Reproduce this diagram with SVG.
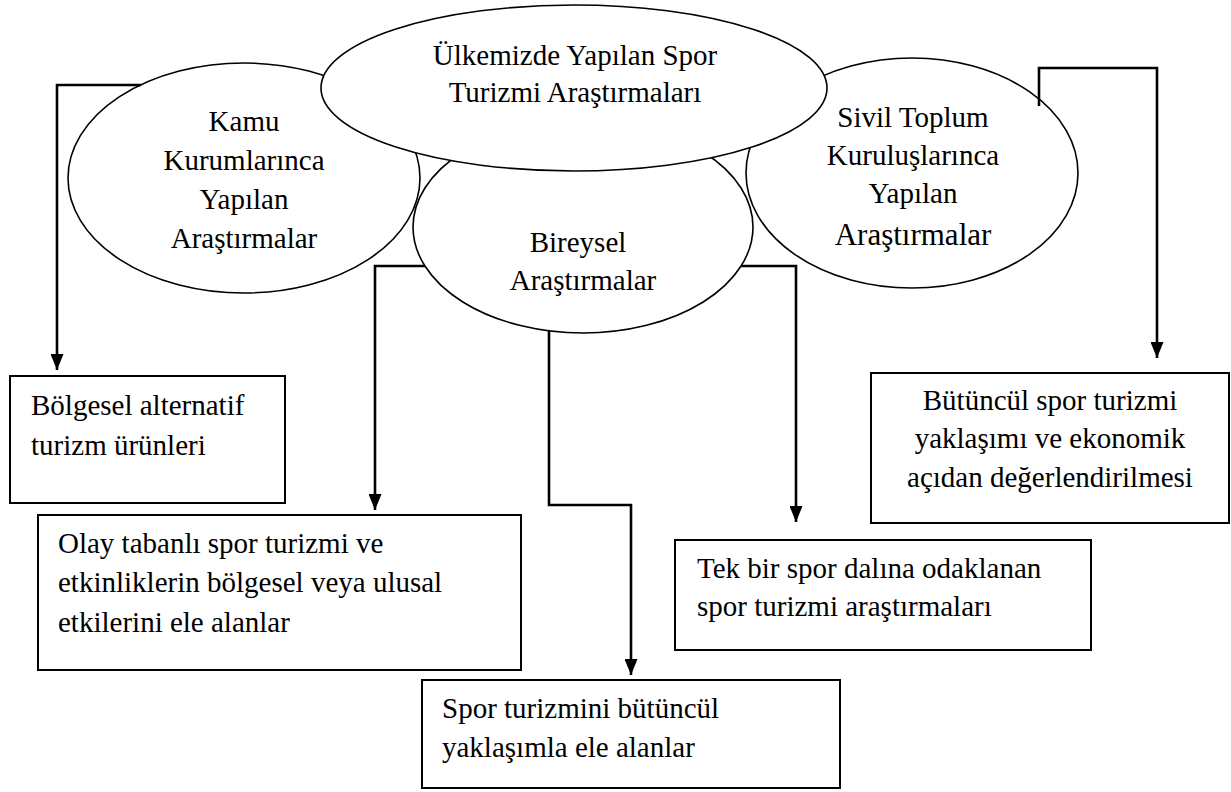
<svg xmlns="http://www.w3.org/2000/svg" width="1231" height="792" viewBox="0 0 1231 792">
  <defs>
    <!-- solid triangular arrowhead, drawn along +x so orient="auto" turns it with the line -->
    <marker id="arrow" markerWidth="16" markerHeight="13" refX="16" refY="6.5" orient="auto" markerUnits="userSpaceOnUse" viewBox="0 0 16 13">
      <path d="M0,0 L16,6.5 L0,13 Z" fill="#000"/>
    </marker>
    <style>
      .oval { fill: #fff; stroke: #000; stroke-width: 1.6; }
      .box { fill: #fff; stroke: #000; stroke-width: 2; }
      .txt { font-family: "Liberation Serif", "Times New Roman", serif; font-size: 29px; fill: #000; }
      .mid { text-anchor: middle; }
      .link { fill: none; stroke: #000; stroke-width: 2.6; }
    </style>
  </defs>
  <rect width="1231" height="792" fill="#fff"/>

  <!-- research categories -->
  <g id="kamu">
    <ellipse class="oval" cx="244" cy="178" rx="176" ry="115"/>
    <text class="txt mid" x="244" y="131">Kamu</text>
    <text class="txt mid" x="244" y="170">Kurumlarınca</text>
    <text class="txt mid" x="244" y="209">Yapılan</text>
    <text class="txt mid" x="244" y="248">Araştırmalar</text>
  </g>
  <g id="bireysel">
    <ellipse class="oval" cx="583" cy="227" rx="170" ry="106"/>
    <text class="txt mid" x="578" y="252">Bireysel</text>
    <text class="txt mid" x="583" y="290">Araştırmalar</text>
  </g>
  <g id="sivil">
    <ellipse class="oval" cx="912" cy="173" rx="166" ry="115"/>
    <text class="txt mid" x="913" y="127">Sivil Toplum</text>
    <text class="txt mid" x="913" y="165">Kuruluşlarınca</text>
    <text class="txt mid" x="913" y="203">Yapılan</text>
    <text class="txt mid" x="913" y="245" style="font-size:31px">Araştırmalar</text>
  </g>

  <!-- central topic -->
  <g id="ulkemizde">
    <ellipse class="oval" cx="574" cy="88" rx="253" ry="83"/>
    <text class="txt mid" x="575" y="65">Ülkemizde Yapılan Spor</text>
    <text class="txt mid" x="575" y="102">Turizmi Araştırmaları</text>
  </g>

  <!-- outcome boxes -->
  <g id="bolgesel">
    <rect class="box" x="10" y="376" width="275" height="127"/>
    <text class="txt" x="31" y="415">Bölgesel alternatif</text>
    <text class="txt" x="31" y="455">turizm ürünleri</text>
  </g>
  <g id="olay">
    <rect class="box" x="38" y="515" width="483" height="155"/>
    <text class="txt" x="58" y="553">Olay tabanlı spor turizmi ve</text>
    <text class="txt" x="58" y="592">etkinliklerin bölgesel veya ulusal</text>
    <text class="txt" x="58" y="632">etkilerini ele alanlar</text>
  </g>
  <g id="butunculYaklasim">
    <rect class="box" x="422" y="680" width="418" height="108"/>
    <text class="txt" x="442" y="718">Spor turizmini bütüncül</text>
    <text class="txt" x="442" y="757">yaklaşımla ele alanlar</text>
  </g>
  <g id="tekBir">
    <rect class="box" x="675" y="540" width="416" height="110"/>
    <text class="txt" x="697" y="578">Tek bir spor dalına odaklanan</text>
    <text class="txt" x="697" y="616">spor turizmi araştırmaları</text>
  </g>
  <g id="butunculEkonomik">
    <rect class="box" x="871" y="373" width="358" height="150"/>
    <text class="txt mid" x="1050" y="410">Bütüncül spor turizmi</text>
    <text class="txt mid" x="1050" y="448">yaklaşımı ve ekonomik</text>
    <text class="txt mid" x="1050" y="487">açıdan değerlendirilmesi</text>
  </g>

  <!-- connectors -->
  <g id="connectors">
    <path class="link" d="M141,85 H57 V370" marker-end="url(#arrow)"/>
    <path class="link" d="M425,266 H375 V510" marker-end="url(#arrow)"/>
    <path class="link" d="M549,331 V505 H631 V675" marker-end="url(#arrow)"/>
    <path class="link" d="M741,266 H796 V522" marker-end="url(#arrow)"/>
    <path class="link" d="M1039,106 V68 H1157 V358" marker-end="url(#arrow)"/>
  </g>
</svg>
